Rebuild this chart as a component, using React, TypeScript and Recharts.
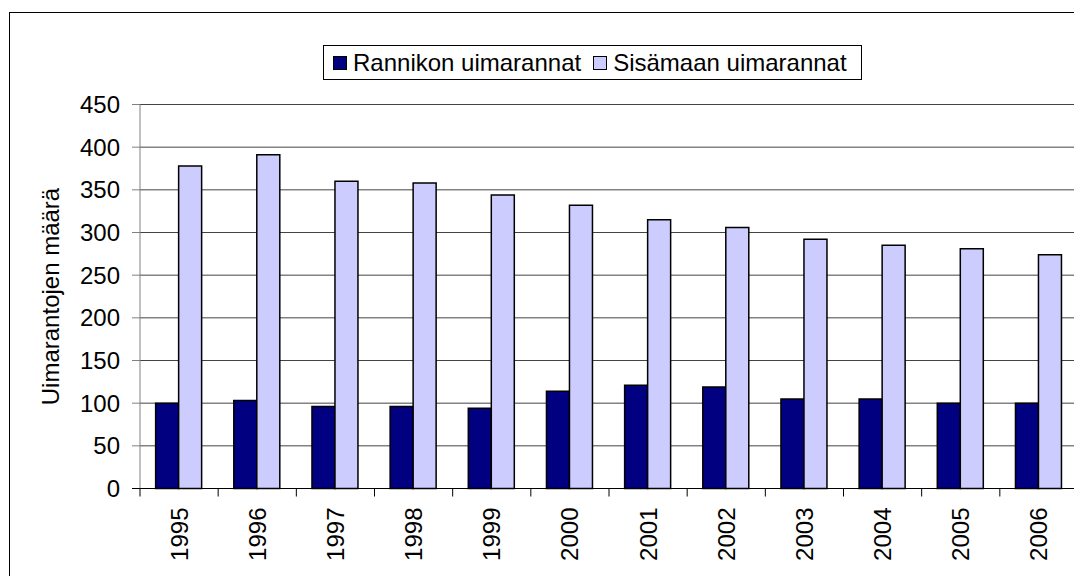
import { BarChart, Bar, XAxis, YAxis, CartesianGrid } from "recharts";

const years = ["1995", "1996", "1997", "1998", "1999", "2000", "2001", "2002", "2003", "2004", "2005", "2006"];
const rannikko = [100, 103, 96, 96, 94, 114, 121, 119, 105, 105, 100, 100];
const sisamaa = [378, 391, 360, 358, 344, 332, 315, 306, 292, 285, 281, 274];
const yTicks = [0, 50, 100, 150, 200, 250, 300, 350, 400, 450];

const series = [
    { key: "rannikko", name: "Rannikon uimarannat", color: "#000080" },
    { key: "sisamaa", name: "Sisämaan uimarannat", color: "#CCCCFF" },
];

const data = years.map((year, i) => ({ year, rannikko: rannikko[i], sisamaa: sisamaa[i] }));

const FONT = '"Liberation Sans", Arial, sans-serif';
const FS = 24;
const W = 1074;
const H = 568;
const Y_AXIS_W = 132;
const RIGHT = 4;
const PLOT_W = W - Y_AXIS_W - RIGHT;
const TICK_SIZE = 8;
const TICK_MARGIN = 11;

function YearTick(props: any) {
    const { x, y, payload, index } = props;
    const bw = PLOT_W / years.length;
    const axisY = y - TICK_SIZE - TICK_MARGIN;
    const left = x - bw / 2;
    return (
        <g>
            {index === 0 && <line x1={left - 8} x2={left} y1={axisY} y2={axisY} stroke="#000" />}
            <line x1={left} x2={left} y1={axisY} y2={axisY + TICK_SIZE} stroke="#000" />
            {index === years.length - 1 && (
                <line x1={x + bw / 2} x2={x + bw / 2} y1={axisY} y2={axisY + TICK_SIZE} stroke="#000" />
            )}
            <text
                x={x}
                y={y}
                transform={`rotate(-90 ${x} ${y})`}
                textAnchor="end"
                dominantBaseline="central"
                fontSize={FS}
                fontFamily={FONT}
                fill="#000"
            >
                {payload.value}
            </text>
        </g>
    );
}

export default function App() {
    return (
        <div style={{ position: "relative", width: W, height: H, fontFamily: FONT }}>
            <div
                style={{
                    position: "absolute",
                    left: 1,
                    top: 4,
                    width: 1071,
                    height: 564,
                    borderLeft: "1px solid #000",
                    borderTop: "1px solid #000",
                    borderRight: "1px solid #000",
                    boxSizing: "border-box",
                }}
            />
            <BarChart
                width={W}
                height={H}
                data={data}
                margin={{ top: 96.5, right: RIGHT, left: 0, bottom: 7.5 }}
                barCategoryGap="20%"
                barGap={0}
            >
                <CartesianGrid vertical={false} stroke="#444" />
                <XAxis
                    dataKey="year"
                    height={80}
                    interval={0}
                    tickLine={false}
                    tickSize={TICK_SIZE}
                    tickMargin={TICK_MARGIN}
                    axisLine={{ stroke: "#000" }}
                    tick={<YearTick />}
                />
                <YAxis
                    width={Y_AXIS_W}
                    domain={[0, 450]}
                    ticks={yTicks}
                    interval={0}
                    tickSize={8}
                    tickMargin={12}
                    axisLine={{ stroke: "#808080" }}
                    tickLine={{ stroke: "#808080" }}
                    tick={{ fontSize: FS, fill: "#000", fontFamily: FONT }}
                    label={{
                        value: "Uimarantojen määrä",
                        angle: -90,
                        position: "center",
                        dx: -24,
                        style: { fontSize: FS, fill: "#000", fontFamily: FONT },
                    }}
                />
                {series.map((s) => (
                    <Bar
                        key={s.key}
                        dataKey={s.key}
                        name={s.name}
                        fill={s.color}
                        stroke="#000"
                        strokeWidth={1.5}
                        isAnimationActive={false}
                    />
                ))}
            </BarChart>
            <div
                style={{
                    position: "absolute",
                    left: 315,
                    top: 37,
                    width: 539,
                    height: 35,
                    border: "1px solid #000",
                    boxSizing: "border-box",
                    display: "flex",
                    alignItems: "center",
                    paddingLeft: 9,
                    fontSize: FS,
                    color: "#000",
                    background: "#fff",
                    whiteSpace: "nowrap",
                }}
            >
                {series.map((s, i) => (
                    <span key={s.key} style={{ display: "flex", alignItems: "center", marginLeft: i === 0 ? 0 : 12 }}>
                        <span
                            style={{
                                display: "inline-block",
                                width: 14,
                                height: 14,
                                background: s.color,
                                border: "1px solid #000",
                                boxSizing: "border-box",
                                marginRight: 6,
                            }}
                        />
                        <span>{s.name}</span>
                    </span>
                ))}
            </div>
        </div>
    );
}
